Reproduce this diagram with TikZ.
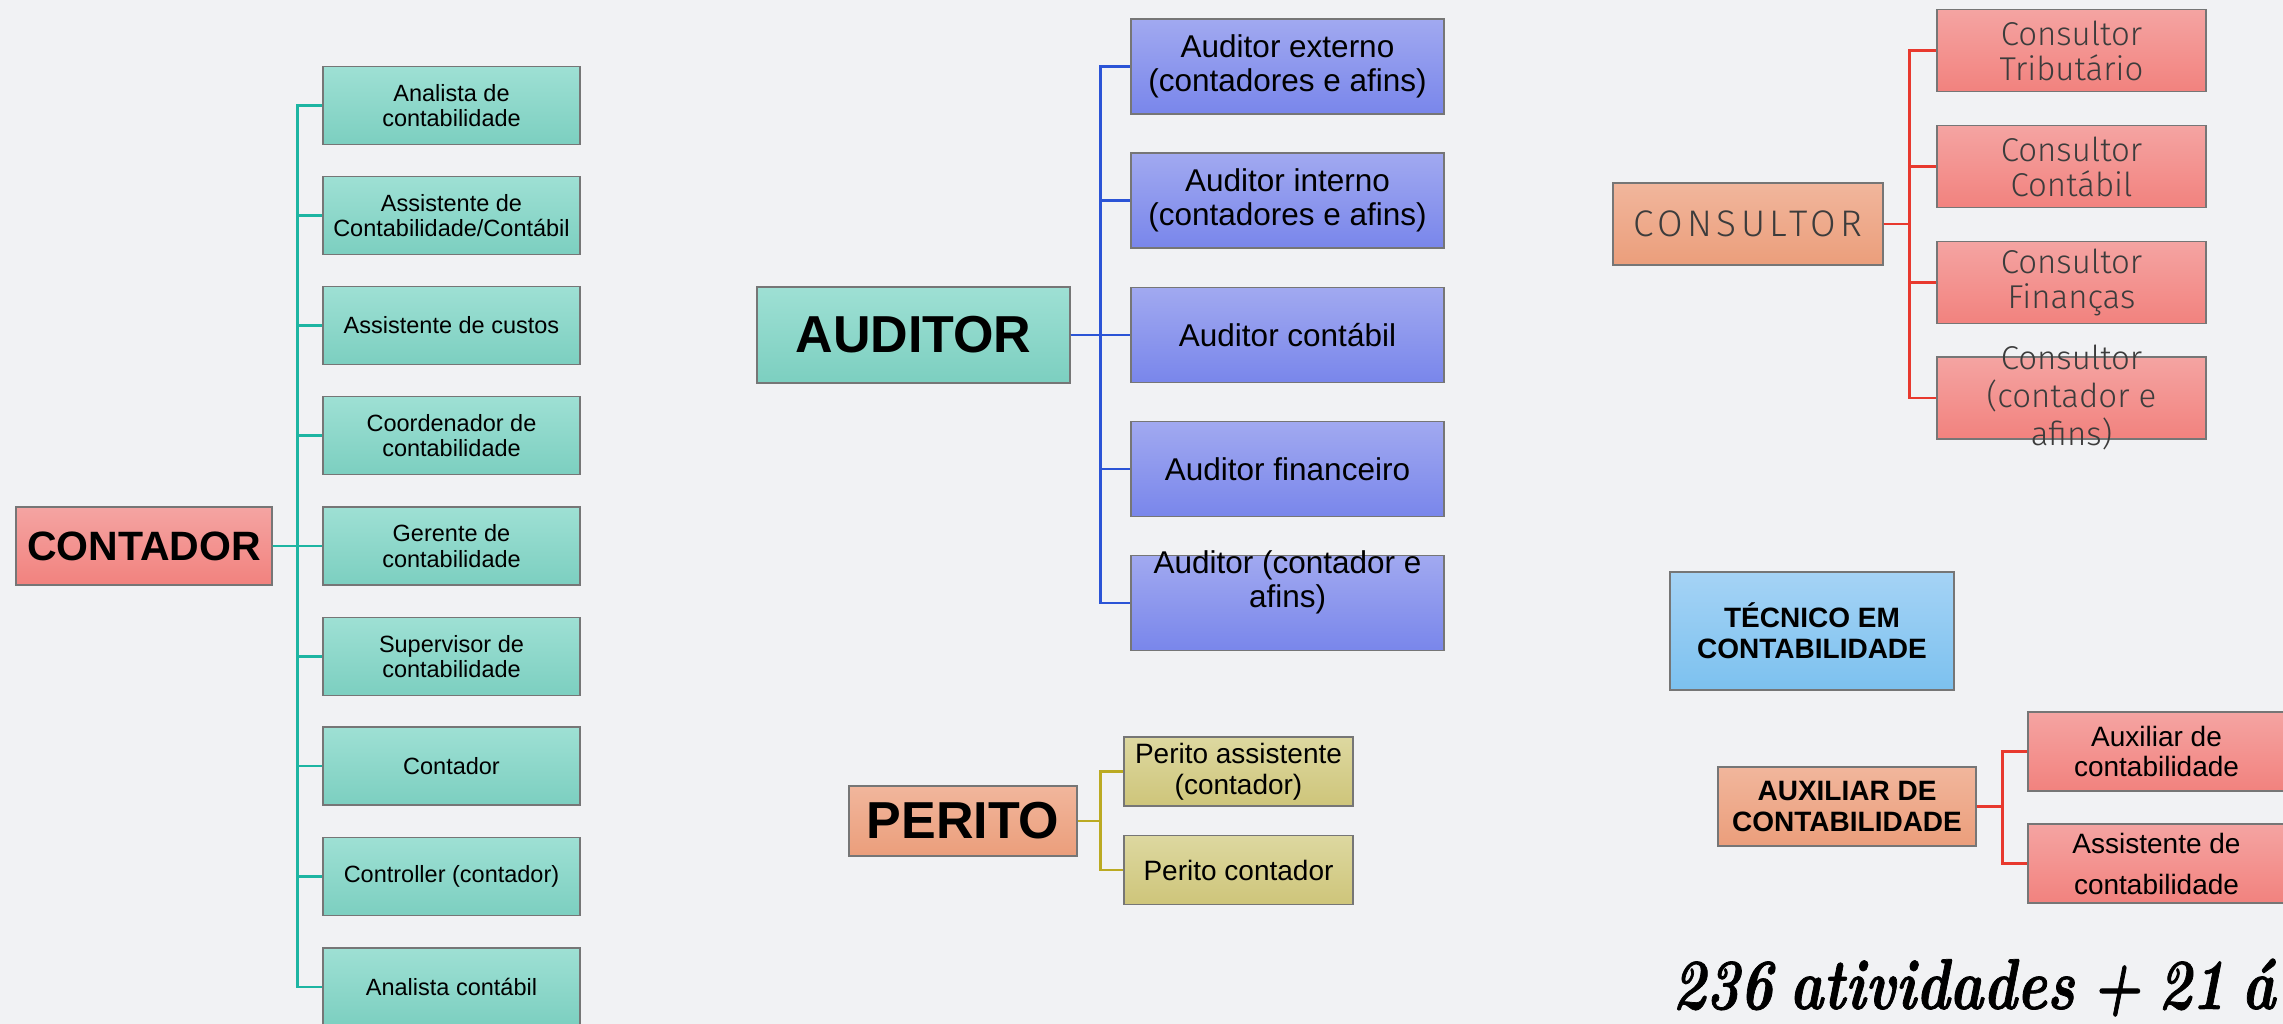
\documentclass[tikz,border=0pt]{standalone}
\usepackage{fontspec}
\setmainfont{Liberation Sans}
\newfontfamily\lightfont{Fira Sans Light}
\newfontfamily\lightwide{Fira Sans Light}[LetterSpace=12]
\newfontfamily\totfont{Latin Modern Roman}[FakeStretch=0.79,WordSpace=0.7,FakeBold=1]
\definecolor{bgc}{HTML}{F1F2F4}
\definecolor{tealtop}{HTML}{9EE0D4}
\definecolor{tealbot}{HTML}{7CCFC0}
\definecolor{redtop}{HTML}{F4A4A2}
\definecolor{redbot}{HTML}{F2827E}
\definecolor{bluetop}{HTML}{A1A9F0}
\definecolor{bluebot}{HTML}{7986EB}
\definecolor{saltop}{HTML}{F1B69C}
\definecolor{salbot}{HTML}{EB9E7B}
\definecolor{khtop}{HTML}{DDD8A0}
\definecolor{khbot}{HTML}{CEC57A}
\definecolor{skytop}{HTML}{A5D3F5}
\definecolor{skybot}{HTML}{7CC1EF}
\definecolor{tealline}{HTML}{1DB5A2}
\definecolor{blueline}{HTML}{2B54D6}
\definecolor{oliveline}{HTML}{BBAA22}
\definecolor{redline}{HTML}{E8392E}
\definecolor{boxline}{HTML}{767676}
\definecolor{thintext}{HTML}{3C3C3C}
\begin{document}
\begin{tikzpicture}[x=1pt,y=-1pt,
    box/.style={draw=boxline,line width=1.3pt,inner sep=2pt,align=center},
    teal/.style={box,top color=tealtop,bottom color=tealbot},
    rose/.style={box,top color=redtop,bottom color=redbot},
    violet/.style={box,top color=bluetop,bottom color=bluebot},
    salmon/.style={box,top color=saltop,bottom color=salbot},
    khaki/.style={box,top color=khtop,bottom color=khbot},
    sky/.style={box,top color=skytop,bottom color=skybot},
    ctbox/.style={teal,minimum width=257pt,minimum height=78pt,font=\fontsize{23.5}{25.5}\selectfont},
    aubox/.style={violet,minimum width=313pt,minimum height=95pt,font=\fontsize{31.5}{34}\selectfont},
    pebox/.style={khaki,minimum width=229pt,minimum height=69pt,font=\fontsize{28}{30.5}\selectfont},
    csbox/.style={rose,minimum width=269pt,minimum height=82pt,text=thintext,font=\lightfont\fontsize{33}{35}\selectfont},
    axbox/.style={rose,minimum width=257pt,minimum height=79pt,font=\fontsize{28}{30}\selectfont}]
  \useasboundingbox (0,0) rectangle (2283,1024);
  \fill[bgc] (0,0) rectangle (2283,1024);

  % contador
  \node[rose,minimum width=256pt,minimum height=78pt,font=\bfseries\fontsize{41}{44}\selectfont] (ct) at (144,546) {CONTADOR};
  \node[ctbox] (ct1) at (451.5,105.5) {Analista de\\contabilidade};
  \node[ctbox] (ct2) at (451.5,215.5) {Assistente de\\Contabilidade/Contábil};
  \node[ctbox] (ct3) at (451.5,325.5) {Assistente de custos};
  \node[ctbox] (ct4) at (451.5,435.5) {Coordenador de\\contabilidade};
  \node[ctbox] (ct5) at (451.5,546) {Gerente de\\contabilidade};
  \node[ctbox] (ct6) at (451.5,656.5) {Supervisor de\\contabilidade};
  \node[ctbox] (ct7) at (451.5,766) {Contador};
  \node[ctbox] (ct8) at (451.5,876.5) {Controller (contador)};
  \node[ctbox] (ct9) at (451.5,987) {Analista contábil};

  % auditor
  \node[teal,minimum width=313pt,minimum height=96pt,font=\bfseries\fontsize{52}{56}\selectfont] (au) at (913.5,335) {AUDITOR};
  \node[aubox] (au1) at (1287.5,66.5) {Auditor externo\\(contadores e afins)};
  \node[aubox] (au2) at (1287.5,200.5) {Auditor interno\\(contadores e afins)};
  \node[aubox] (au3) at (1287.5,335) {Auditor contábil};
  \node[aubox] (au4) at (1287.5,469) {Auditor financeiro};
  \node[aubox] (au5) at (1287.5,603) {\raisebox{13pt}[0pt][0pt]{\begin{tabular}{@{}c@{}}Auditor (contador e\\afins)\end{tabular}}};

  % perito
  \node[salmon,minimum width=228pt,minimum height=70pt,font=\bfseries\fontsize{52}{56}\selectfont] (pe) at (963,821) {PERITO};
  \node[pebox] (pe1) at (1238.5,771.5) {Perito assistente\\(contador)};
  \node[pebox] (pe2) at (1238.5,870) {Perito contador};

  % consultor
  \node[salmon,minimum width=270pt,minimum height=82pt,text=thintext,font=\lightwide\fontsize{37}{40}\selectfont] (cs) at (1748,224) {CONSULTOR};
  \node[csbox] (cs1) at (2071.5,50.5) {Consultor\\Tributário};
  \node[csbox] (cs2) at (2071.5,166.5) {Consultor\\Contábil};
  \node[csbox] (cs3) at (2071.5,282.5) {Consultor\\Finanças};
  \node[csbox] (cs4) at (2071.5,398) {\raisebox{-9pt}[0pt][0pt]{\begin{tabular}{@{}c@{}}Consultor\\(contador e\\afins)\end{tabular}}};

  % tecnico e auxiliar
  \node[sky,minimum width=284pt,minimum height=118pt,font=\bfseries\fontsize{28}{31}\selectfont] (tc) at (1812,631) {TÉCNICO EM\\CONTABILIDADE};
  \node[salmon,minimum width=258pt,minimum height=79pt,font=\bfseries\fontsize{28}{31}\selectfont] (ax) at (1847,806.5) {AUXILIAR DE\\CONTABILIDADE};
  \node[axbox] (ax1) at (2156.5,751.5) {Auxiliar de\\contabilidade};
  \node[axbox] (ax2) at (2156.5,863.5) {Assistente de\\[11pt]contabilidade};

  \node[anchor=base west,inner sep=0pt,font=\totfont\bfseries\itshape\fontsize{72}{78}\selectfont] (tot) at (1672,1009) {236 atividades + 21 á};

  \begin{scope}[tealline,line width=2.6pt]
    \draw (ct) -| ([xshift=-25pt]ct1.west) -- (ct1.west);
    \draw (ct) -| ([xshift=-25pt]ct2.west) -- (ct2.west);
    \draw (ct) -| ([xshift=-25pt]ct3.west) -- (ct3.west);
    \draw (ct) -| ([xshift=-25pt]ct4.west) -- (ct4.west);
    \draw (ct) -- (ct5);
    \draw (ct) -| ([xshift=-25pt]ct6.west) -- (ct6.west);
    \draw (ct) -| ([xshift=-25pt]ct7.west) -- (ct7.west);
    \draw (ct) -| ([xshift=-25pt]ct8.west) -- (ct8.west);
    \draw (ct) -| ([xshift=-25pt]ct9.west) -- (ct9.west);
  \end{scope}
  \begin{scope}[blueline,line width=2.6pt]
    \draw (au) -| ([xshift=-30pt]au1.west) -- (au1.west);
    \draw (au) -| ([xshift=-30pt]au2.west) -- (au2.west);
    \draw (au) -- (au3);
    \draw (au) -| ([xshift=-30pt]au4.west) -- (au4.west);
    \draw (au) -| ([xshift=-30pt]au5.west) -- (au5.west);
  \end{scope}
  \begin{scope}[oliveline,line width=2.6pt]
    \draw (pe) -| ([xshift=-23pt]pe1.west) -- (pe1.west);
    \draw (pe) -| ([xshift=-23pt]pe2.west) -- (pe2.west);
  \end{scope}
  \begin{scope}[redline,line width=2.6pt]
    \draw (cs) -| ([xshift=-27pt]cs1.west) -- (cs1.west);
    \draw (cs) -| ([xshift=-27pt]cs2.west) -- (cs2.west);
    \draw (cs) -| ([xshift=-27pt]cs3.west) -- (cs3.west);
    \draw (cs) -| ([xshift=-27pt]cs4.west) -- (cs4.west);
    \draw (ax) -| ([xshift=-25pt]ax1.west) -- (ax1.west);
    \draw (ax) -| ([xshift=-25pt]ax2.west) -- (ax2.west);
  \end{scope}
\end{tikzpicture}
\end{document}
